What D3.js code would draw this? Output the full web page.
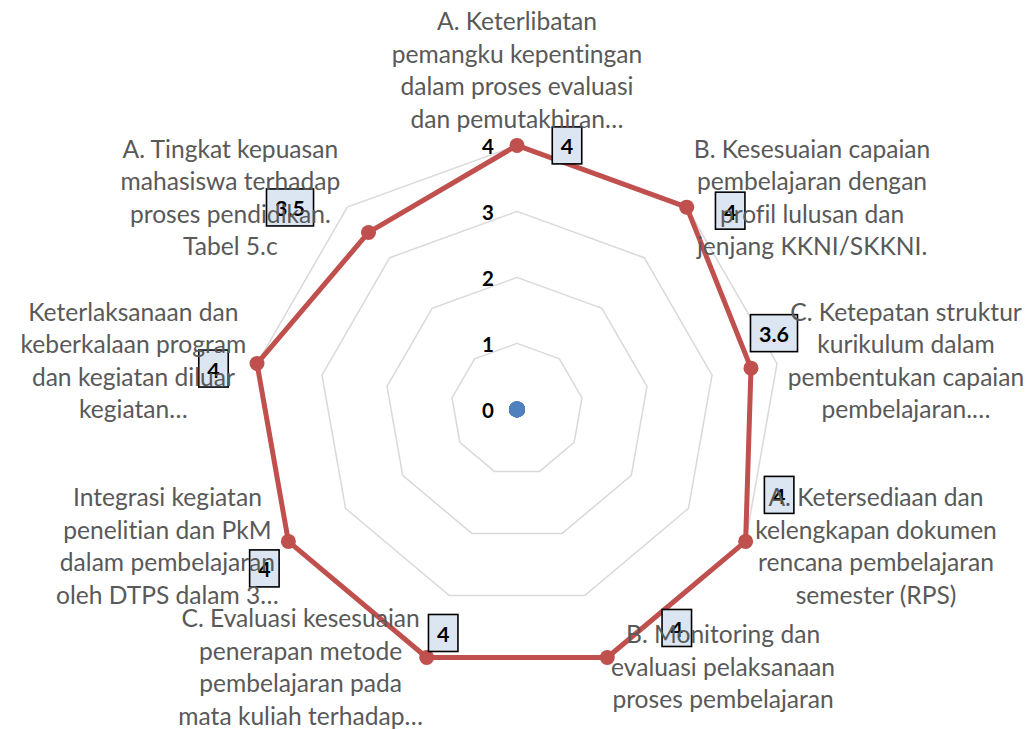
<!DOCTYPE html>
<html><head><meta charset="utf-8">
<script src="https://cdn.jsdelivr.net/npm/d3@7"></script>
<style>body{margin:0;background:#fff} text{font-variant-ligatures:none;font-feature-settings:"liga" 0,"clig" 0}</style>
</head><body><svg id="chart" width="1034" height="729"></svg>
<script>
const categories = [
  "A. Keterlibatan\npemangku kepentingan\ndalam proses evaluasi\ndan pemutakhiran…",
  "B. Kesesuaian capaian\npembelajaran dengan\nprofil lulusan dan\njenjang KKNI/SKKNI.",
  "C. Ketepatan struktur\nkurikulum dalam\npembentukan capaian\npembelajaran.…",
  "A. Ketersediaan dan\nkelengkapan dokumen\nrencana pembelajaran\nsemester (RPS)",
  "B. Monitoring dan\nevaluasi pelaksanaan\nproses pembelajaran",
  "C. Evaluasi kesesuaian\npenerapan metode\npembelajaran pada\nmata kuliah terhadap…",
  "Integrasi kegiatan\npenelitian dan PkM\ndalam pembelajaran\noleh DTPS dalam 3…",
  "Keterlaksanaan dan\nkeberkalaan program\ndan kegiatan diluar\nkegiatan…",
  "A. Tingkat kepuasan\nmahasiswa terhadap\nproses pendidikan.\nTabel 5.c"
];
const seriesValues = [4, 4, 3.6, 4, 4, 4, 4, 4, 3.5];
const baseValues = [0, 0, 0, 0, 0, 0, 0, 0, 0];
const tickValues = [0, 1, 2, 3, 4];
const tickLabels = ["0", "1", "2", "3", "4"];
// manual data-label offsets (layout only)
const labelOffsets = [[50,0],[43.5,3.5],[23,-35],[33.5,-46.5],[69.5,-29.5],[16.5,-24.5],[-24,27],[-43.5,5],[-78.5,-25]];

const svg = d3.select("#chart");
const cx = 517, cy = 409.4, R = 264;
const n = categories.length;
const r = d3.scaleLinear().domain([0, 4]).range([0, R]);
const angle = d3.scaleLinear().domain([0, n]).range([0, 2 * Math.PI]);
const pt = (i, v) => [cx + r(v) * Math.sin(angle(i)), cy - r(v) * Math.cos(angle(i))];

const g = svg.append("g");

// grid rings
const radial = d3.lineRadial().angle((d, i) => angle(i)).radius(d => r(d)).curve(d3.curveLinearClosed);
tickValues.filter(t => t > 0).forEach(t => {
  g.append("path")
    .attr("transform", `translate(${cx},${cy})`)
    .attr("d", radial(d3.range(n).map(() => t)))
    .attr("fill", "none").attr("stroke", "#d9d9d9").attr("stroke-width", 1.5);
});

// tick labels
g.selectAll(".tick").data(tickValues).join("text")
  .attr("x", cx - 23).attr("y", t => cy - r(t) + 1)
  .attr("text-anchor", "end").attr("dominant-baseline", "central")
  .attr("font-family", "Lato, Carlito, sans-serif").attr("font-weight", "bold")
  .attr("font-size", 20.5).attr("fill", "#000")
  .text((t, i) => tickLabels[i]);

// base series (blue)
g.selectAll(".base").data(baseValues).join("circle")
  .attr("cx", (d, i) => pt(i, d)[0]).attr("cy", (d, i) => pt(i, d)[1])
  .attr("r", 8).attr("fill", "#4f81bd");

// main series
g.append("path")
  .attr("transform", `translate(${cx},${cy})`)
  .attr("d", radial(seriesValues))
  .attr("fill", "none").attr("stroke", "#c0504d").attr("stroke-width", 5)
  .attr("stroke-linejoin", "round");
g.selectAll(".mk").data(seriesValues).join("circle")
  .attr("cx", (d, i) => pt(i, d)[0]).attr("cy", (d, i) => pt(i, d)[1])
  .attr("r", 7.5).attr("fill", "#c0504d");

// data labels
const dl = g.selectAll(".dl").data(seriesValues).join("g")
  .attr("transform", (d, i) => {
    const p = pt(i, d);
    return `translate(${p[0] + labelOffsets[i][0]},${p[1] + labelOffsets[i][1]})`;
  });
dl.each(function(d) {
  const s = d3.select(this);
  const t = s.append("text").attr("text-anchor", "middle").attr("dominant-baseline", "central")
    .attr("y", 1)
    .attr("font-family", "Lato, Carlito, sans-serif").attr("font-weight", "bold")
    .attr("font-size", 21.5).attr("fill", "#000").text(String(d));
  const w = t.node().getComputedTextLength() + 17;
  s.insert("rect", "text").attr("x", -w / 2).attr("y", -18.5).attr("width", w).attr("height", 37)
    .attr("fill", "#dce6f2").attr("stroke", "#000").attr("stroke-width", 1.6);
});

// category labels
const fs = 24.6, lh = 32.5, gap = 11;
categories.forEach((c, i) => {
  const lines = c.split("\n");
  const a = angle(i);
  const ax = cx + (R + gap) * Math.sin(a), ay = cy - (R + gap) * Math.cos(a);
  const t = g.append("text").attr("font-family", "Lato, Carlito, sans-serif")
    .attr("font-size", fs).attr("fill", "#595959").attr("text-anchor", "middle");
  const ts = lines.map(l => t.append("tspan").text(l));
  const maxW = d3.max(ts, s => s.node().getComputedTextLength());
  let centerX, firstCenterY;
  const s = Math.sin(a);
  if (Math.abs(s) < 1e-6) {
    centerX = ax;
    firstCenterY = ay - lh / 2 - (lines.length - 1) * lh;
  } else {
    centerX = s > 0 ? ax + maxW / 2 : ax - maxW / 2;
    firstCenterY = ay - (lines.length - 1) * lh / 2 - 1.5;
  }
  ts.forEach((sp, k) => sp.attr("x", centerX).attr("y", firstCenterY + k * lh).attr("dominant-baseline", "central"));
});
</script></body></html>
